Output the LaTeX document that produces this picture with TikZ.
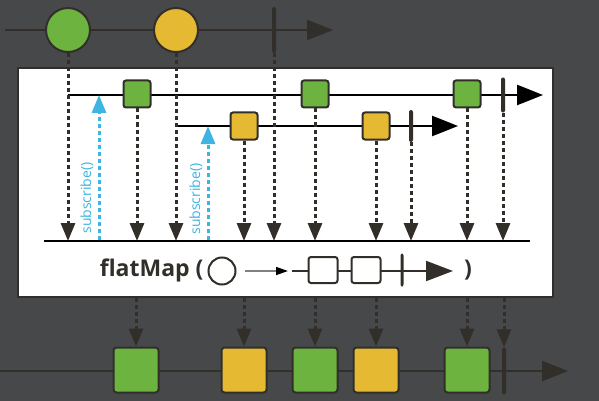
\documentclass[tikz,border=0pt]{standalone}
\usepackage{fontspec}
\setmainfont{Open Sans}
\usetikzlibrary{positioning}
\usetikzlibrary{arrows.meta}
\definecolor{bgcol}{RGB}{70,72,74}
\definecolor{ink}{RGB}{50,47,43}
\definecolor{mgreen}{RGB}{108,179,63}
\definecolor{myellow}{RGB}{229,186,50}
\definecolor{subcol}{RGB}{61,181,224}
\tikzset{>={Triangle[width=14pt,length=18pt]}}

\begin{document}
\begin{tikzpicture}[x=1pt, y=-1pt, marble/.style={circle, draw=ink, line width=2pt, minimum size=44pt, inner sep=0pt}, item/.style={rectangle, rounded corners=2.5pt, draw=ink, line width=2pt, minimum size=27pt, inner sep=0pt}, bigitem/.style={rectangle, rounded corners=3pt, draw=ink, line width=2pt, minimum size=45pt, inner sep=0pt}, done/.style={draw=none, fill=ink, rounded corners=2pt, minimum width=4pt, inner sep=0pt}, timeline/.style={ink, line width=2.5pt, -{Triangle[width=20pt,length=26pt]}}, emit/.style={ink, line width=3pt, dash pattern=on 4pt off 3pt, ->}, sub/.style={subcol, line width=3pt, dash pattern=on 4pt off 3pt, ->}, sublabel/.style={subcol, rotate=90, font=\fontsize{14}{14}\selectfont}]

    %Background
    \useasboundingbox[fill=bgcol] (0,0) rectangle (599,401);

    %Source timeline
    \coordinate (srcstart) at (5,30);
    \coordinate (srcend) at (333,30);
    \draw[timeline] (srcstart) -- (srcend);
    \node[marble, fill=mgreen](c1) at (68,30) {};
    \node[marble, fill=myellow](c2) at (176,30) {};
    \node[done, minimum height=46pt](srcdone) at (274,30) {};

    %Operator box
    \node[draw=ink, fill=white, line width=2pt, minimum width=535pt, minimum height=229pt, inner sep=0pt](box) at (285.5,182.5) {};

    %Inner timelines
    \coordinate (in1start) at (68,95);
    \coordinate (in1end) at (543,95);
    \coordinate (in2start) at (177,126);
    \coordinate (in2end) at (458,126);
    \draw[line width=2.5pt, black, -{Triangle[width=20pt,length=26pt]}] (in1start) -- (in1end);
    \draw[line width=2.5pt, black, -{Triangle[width=20pt,length=26pt]}] (in2start) -- (in2end);
    \node[item, fill=mgreen](g1) at (137,94) {};
    \node[item, fill=mgreen](g2) at (315,94) {};
    \node[item, fill=mgreen](g3) at (467,94) {};
    \node[done, minimum height=35pt](in1done) at (503,95) {};
    \node[item, fill=myellow](y1) at (244,126) {};
    \node[item, fill=myellow](y2) at (376,126) {};
    \node[done, minimum height=32pt](in2done) at (411,126) {};

    %Merge line
    \coordinate (mergeL) at (44,241);
    \coordinate (mergeR) at (530,241);
    \draw[line width=2pt, black] (mergeL) -- (mergeR);

    %Subscriptions
    \coordinate (sub1) at (99,240);
    \coordinate (sub2) at (208,240);
    \draw[sub] (sub1) -- (sub1 |- in1start);
    \draw[sub] (sub2) -- (sub2 |- in2start);
    \node[sublabel](lab1) at (87,198) {subscribe()};
    \node[sublabel](lab2) at (196,199) {subscribe()};

    %Emissions into the operator
    \draw[emit] (c1.south) -- (c1 |- mergeL);
    \draw[emit] (c2.south) -- (c2 |- mergeL);
    \draw[emit] (srcdone.south) -- (srcdone |- mergeL);
    \draw[emit] (g1.south) -- (g1 |- mergeL);
    \draw[emit] (g2.south) -- (g2 |- mergeL);
    \draw[emit] (g3.south) -- (g3 |- mergeL);
    \draw[emit] (y1.south) -- (y1 |- mergeL);
    \draw[emit] (y2.south) -- (y2 |- mergeL);
    \draw[emit] (in2done.south) -- (in2done |- mergeL);
    \draw[emit] (in1done.south) -- (in1done |- mergeL);

    %Operator label
    \node[font=\bfseries\fontsize{23}{23}\selectfont, text=ink, anchor=east](fm) at (207,270) {flatMap (};
    \node[circle, draw=ink, line width=2pt, minimum size=27pt, inner sep=0pt](op) at (222,271) {};
    \coordinate (gstart) at (245,271);
    \coordinate (gend) at (288,271);
    \draw[line width=1.5pt, black!50, -{Triangle[width=8pt,length=12pt,color=black]}] (gstart) -- (gend);
    \coordinate (opstart) at (292,271);
    \coordinate (opend) at (453,271);
    \draw[line width=2pt, ink, -{Triangle[width=20pt,length=27pt]}] (opstart) -- (opend);
    \node[item, fill=white, minimum width=29pt, minimum height=26pt](opsq1) at (323,270) {};
    \node[item, fill=white, minimum width=29pt, minimum height=26pt](opsq2) at (366,270) {};
    \node[done, minimum height=33pt, minimum width=3pt](opdone) at (402,270) {};
    \node[font=\bfseries\fontsize{23}{23}\selectfont, text=ink](close) at (468,270) {)};

    %Result timeline
    \coordinate (outstart) at (0,371);
    \coordinate (outend) at (568,371);
    \draw[timeline] (outstart) -- (outend);
    \node[bigitem, fill=mgreen](o1) at (136,370) {};
    \node[bigitem, fill=myellow](o2) at (244,370) {};
    \node[bigitem, fill=mgreen](o3) at (315,370) {};
    \node[bigitem, fill=myellow](o4) at (376,370) {};
    \node[bigitem, fill=mgreen](o5) at (467,370) {};
    \node[done, minimum height=47pt](outdone) at (504,371) {};

    %Emissions out of the operator
    \draw[emit] (o1 |- box.south) -- (o1.north);
    \draw[emit] (o2 |- box.south) -- (o2.north);
    \draw[emit] (o3 |- box.south) -- (o3.north);
    \draw[emit] (o4 |- box.south) -- (o4.north);
    \draw[emit] (o5 |- box.south) -- (o5.north);
    \draw[emit] (outdone |- box.south) -- (outdone.north);

\end{tikzpicture}
\end{document}
